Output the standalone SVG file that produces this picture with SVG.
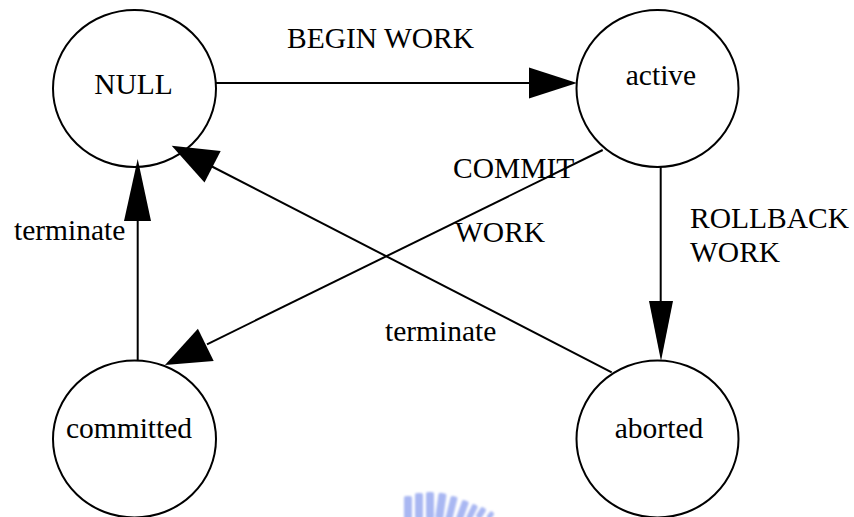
<svg xmlns="http://www.w3.org/2000/svg" width="854" height="517" viewBox="0 0 854 517">
  <style>
    .state { fill: #ffffff; stroke: #000000; stroke-width: 2; }
    .lbl { font-family: "Liberation Serif", "Times New Roman", serif; font-size: 29.5px; fill: #000000; }
    .mid { text-anchor: middle; }
    .edge { stroke: #000000; stroke-width: 2; fill: none; }
    .head { fill: #000000; stroke: none; }
    .seal { fill: #9aaaf0; opacity: 0.85; }
  </style>
  <defs>
    <filter id="soft" x="-20%" y="-20%" width="140%" height="140%">
      <feGaussianBlur stdDeviation="1"/>
    </filter>
  </defs>
  <rect width="854" height="517" fill="#ffffff"/>

  <!-- faint seal mark at the bottom edge -->
  <g id="seal" filter="url(#soft)">
    <rect class="seal" x="404" y="496" width="8" height="24" rx="2"/>
    <rect class="seal" x="415" y="493" width="8" height="26" rx="2"/>
    <rect class="seal" x="426" y="492" width="8" height="27" rx="2"/>
    <rect class="seal" x="437" y="493" width="8" height="26" rx="2" transform="rotate(8 441 505)"/>
    <rect class="seal" x="448" y="496" width="7" height="24" rx="2" transform="rotate(14 451 508)"/>
    <rect class="seal" x="459" y="500" width="7" height="20" rx="2" transform="rotate(20 462 510)"/>
    <rect class="seal" x="469" y="504" width="6" height="16" rx="2" transform="rotate(26 472 512)"/>
    <rect class="seal" x="478" y="507" width="6" height="12" rx="2" transform="rotate(32 481 513)"/>
    <rect class="seal" x="488" y="511" width="5" height="8" rx="2" transform="rotate(38 490 515)"/>
  </g>

  <!-- state nodes -->
  <g id="null">
    <ellipse class="state" cx="134.5" cy="88.5" rx="81.5" ry="78.5"/>
    <text class="lbl mid" x="133.5" y="93.5">NULL</text>
  </g>
  <g id="active">
    <ellipse class="state" cx="657.5" cy="88.5" rx="81" ry="78.5"/>
    <text class="lbl mid" x="661" y="85">active</text>
  </g>
  <g id="committed">
    <ellipse class="state" cx="134.5" cy="439" rx="81.5" ry="78.5"/>
    <text class="lbl mid" x="129" y="438">committed</text>
  </g>
  <g id="aborted">
    <ellipse class="state" cx="657.5" cy="439" rx="81" ry="78.5"/>
    <text class="lbl mid" x="659" y="438">aborted</text>
  </g>

  <!-- transitions -->
  <g id="connectors">
    <!-- NULL -> active : BEGIN WORK -->
    <line class="edge" x1="216" y1="83" x2="531" y2="83"/>
    <polygon class="head" points="577,83 529,67.5 529,98.5"/>
    <!-- committed -> NULL : terminate -->
    <line class="edge" x1="137.7" y1="360" x2="137.7" y2="220"/>
    <polygon class="head" points="137.7,159 124,221 151,221"/>
    <!-- active -> committed : COMMIT WORK -->
    <line class="edge" x1="602.7" y1="150" x2="207" y2="344.3"/>
    <polygon class="head" points="165,365 213.7,361.1 197.9,328.7"/>
    <!-- aborted -> NULL : terminate -->
    <line class="edge" x1="611.7" y1="372.3" x2="211" y2="166"/>
    <polygon class="head" points="171.7,145.7 204.5,182.5 220.7,151.1"/>
    <!-- active -> aborted : ROLLBACK WORK -->
    <line class="edge" x1="660.7" y1="167" x2="660.7" y2="302"/>
    <polygon class="head" points="661,361 649,301 673,301"/>
  </g>

  <!-- transition labels -->
  <g id="labels">
    <text class="lbl" x="287" y="48">BEGIN WORK</text>
    <text class="lbl" x="453" y="178">COMMIT</text>
    <text class="lbl" x="455" y="242">WORK</text>
    <text class="lbl" x="690" y="228">ROLLBACK</text>
    <text class="lbl" x="690" y="262">WORK</text>
    <text class="lbl" x="14" y="240">terminate</text>
    <text class="lbl" x="385" y="341">terminate</text>
  </g>
</svg>
